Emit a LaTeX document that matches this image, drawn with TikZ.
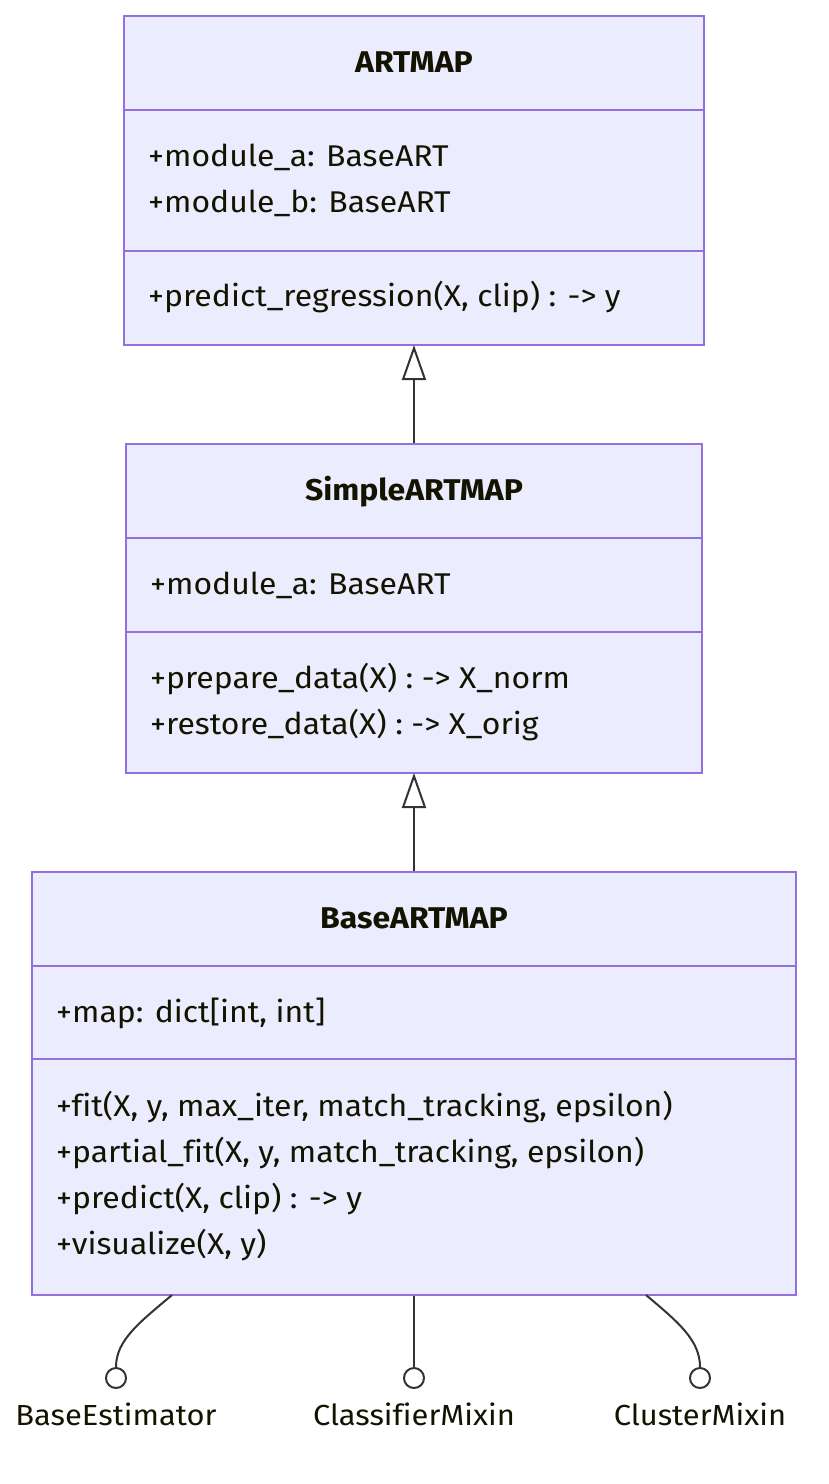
\documentclass[tikz,border=0pt]{standalone}
\usepackage{fontspec}
\setmainfont[Ligatures=NoCommon, FakeStretch=1.065]{Fira Sans}
\usetikzlibrary{arrows.meta}
\definecolor{boxfill}{HTML}{ECECFF}
\definecolor{boxline}{HTML}{9370DB}
\definecolor{txt}{HTML}{131300}
\definecolor{edge}{HTML}{333333}
\tikzset{
  classbox/.style={draw=boxline, fill=boxfill, line width=2pt, inner sep=0pt, rectangle},
  divider/.style={draw=boxline, line width=2pt},
  member/.style={anchor=base west, inner sep=0pt, text=txt, font=\fontsize{30}{34}\selectfont},
  title/.style={anchor=base, inner sep=0pt, text=txt, font=\fontsize{30}{34}\selectfont\bfseries},
  inherit/.style={draw=edge, line width=2pt, -{Triangle[open, width=24pt, length=35pt, line width=2pt]}},
  lolline/.style={draw=edge, line width=2pt},
  lolly/.style={circle, draw=edge, fill=white, line width=2pt, minimum size=20pt, inner sep=0pt},
  iface/.style={anchor=base, inner sep=0pt, text=txt, font=\fontsize{29}{34}\selectfont}
}
\begin{document}
\begin{tikzpicture}[x=1pt, y=-1pt]
\useasboundingbox (0,0) rectangle (828,1484);
% ARTMAP
\node[classbox, minimum width=580pt, minimum height=329pt] (artmap) at (414,180.5) {};
\draw[divider] (124,110) -- (704,110);
\draw[divider] (124,251) -- (704,251);
\node[title] (artmapT) at (414,72) {ARTMAP};
\node[member] (artmapA1) at (148,166) {+module\_a: BaseART};
\node[member] (artmapA2) at (148,212) {+module\_b: BaseART};
\node[member] (artmapM1) at (148,306) {+predict\_regression(X, clip) : -> y};
% SimpleARTMAP
\node[classbox, minimum width=576pt, minimum height=329pt] (simple) at (414,608.5) {};
\draw[divider] (126,538) -- (702,538);
\draw[divider] (126,632) -- (702,632);
\node[title] (simpleT) at (414,500) {SimpleARTMAP};
\node[member] (simpleA1) at (150,594) {+module\_a: BaseART};
\node[member] (simpleM1) at (150,688) {+prepare\_data(X) : -> X\_norm};
\node[member] (simpleM2) at (150,734) {+restore\_data(X) : -> X\_orig};
% BaseARTMAP
\node[classbox, minimum width=764pt, minimum height=423pt] (base) at (414,1083.5) {};
\draw[divider] (32,966) -- (796,966);
\draw[divider] (32,1059) -- (796,1059);
\node[title] (baseT) at (414,928) {BaseARTMAP};
\node[member] (baseA1) at (56,1022) {+map: dict[int, int]};
\node[member] (baseM1) at (56,1116) {+fit(X, y, max\_iter, match\_tracking, epsilon)};
\node[member] (baseM2) at (56,1162) {+partial\_fit(X, y, match\_tracking, epsilon)};
\node[member] (baseM3) at (56,1208) {+predict(X, clip) : -> y};
\node[member] (baseM4) at (56,1254) {+visualize(X, y)};
% inheritance
\draw[inherit] (simple.north) -- ([yshift=1pt]artmap.south);
\draw[inherit] (base.north) -- ([yshift=1pt]simple.south);
% lollipops
\coordinate (l1) at (172,1295);
\coordinate (l3) at (646,1295);
\node[lolly] (c1) at (116,1378) {};
\node[lolly] (c2) at (414,1378) {};
\node[lolly] (c3) at (700,1378) {};
\draw[lolline] (l1) .. controls (140,1322) and (116,1340) .. (c1.north);
\draw[lolline] (base.south) -- (c2.north);
\draw[lolline] (l3) .. controls (678,1322) and (700,1340) .. (c3.north);
\node[iface] (i1) at (116,1425) {BaseEstimator};
\node[iface] (i2) at (414,1425) {ClassifierMixin};
\node[iface] (i3) at (700,1425) {ClusterMixin};
\end{tikzpicture}
\end{document}
